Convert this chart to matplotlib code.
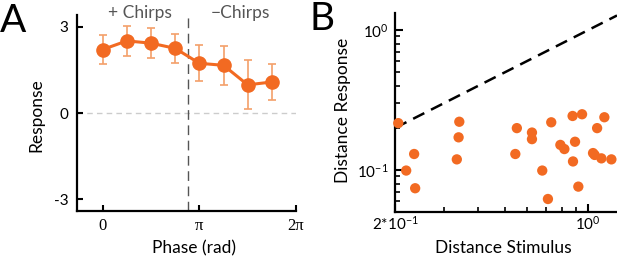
import numpy as np
import matplotlib
matplotlib.use('Agg')
import matplotlib.pyplot as plt
import matplotlib.ticker as mticker
import matplotlib.transforms as mtransforms

plt.rcParams['font.family'] = ['Lato', 'DejaVu Sans']
plt.rcParams['mathtext.fontset'] = 'custom'
plt.rcParams['mathtext.rm'] = 'Lato'
plt.rcParams['mathtext.default'] = 'regular'

# panel A: response vs chirp phase
phase = np.arange(8) * np.pi / 4
resp = [2.21, 2.51, 2.43, 2.25, 1.73, 1.66, 0.98, 1.08]
resp_err = [0.52, 0.52, 0.52, 0.50, 0.63, 0.68, 0.85, 0.62]
split_phase = 2.78
chirp_labels = ['+ Chirps', '\u2212Chirps']
chirp_pos = [1.21, 4.46]

# panel B: distance of responses vs distance of stimuli
dist_stim = [0.205, 0.219, 0.234, 0.236, 0.341, 0.339, 0.334, 0.551, 0.544,
             0.625, 0.625, 0.681, 0.734, 0.714, 0.792, 0.819, 0.895, 0.880,
             0.877, 0.949, 0.920, 1.143, 1.076, 1.040, 1.054, 1.115, 1.212]
dist_resp = [0.216, 0.099, 0.130, 0.074, 0.221, 0.171, 0.119, 0.199, 0.130,
             0.185, 0.166, 0.099, 0.219, 0.062, 0.151, 0.141, 0.159, 0.115,
             0.243, 0.250, 0.076, 0.238, 0.199, 0.132, 0.128, 0.121, 0.119]

orange = '#f26a22'
err_orange = '#f4a06a'

fig = plt.figure(figsize=(6.17, 2.59), dpi=100)

# ---- A ----
axA = fig.add_axes([0.1248, 0.1853, 0.355, 0.7567])
axA.axhline(0, color='#cccccc', lw=1, ls=(0, (4, 3)), zorder=0)
axA.axvline(split_phase, color='#555555', lw=1, ls=(0, (7, 4)), zorder=1)
axA.errorbar(phase, resp, yerr=resp_err, fmt='none', ecolor=err_orange,
             elinewidth=1.2, capsize=3, capthick=1.2, zorder=2)
axA.plot(phase, resp, '-o', color=orange, lw=2.2, ms=9.5, zorder=3)
axA.set_xlim(-0.835, 2 * np.pi)
axA.set_ylim(-3.41, 3.41)
axA.set_xticks([0, np.pi, 2 * np.pi])
axA.set_xticklabels(['0', '\u03c0', '2\u03c0'],
                    family=['Liberation Serif', 'DejaVu Serif'], fontsize=12)
axA.set_yticks([-3, 0, 3])
axA.set_yticklabels(['-3', '0', '3'], fontsize=11)
axA.tick_params(direction='in', length=4.5, width=1.5, pad=5)
axA.tick_params(axis='y', pad=6)
for s in ['top', 'right']:
    axA.spines[s].set_visible(False)
for s in ['left', 'bottom']:
    axA.spines[s].set_linewidth(1.6)
axA.set_ylabel('Response', fontsize=12.5, va='center')
axA.yaxis.set_label_coords(-0.187, 0.49)
axA.set_xlabel('Phase (rad)', fontsize=12.5, va='center')
axA.xaxis.set_label_coords(0.532, -0.19)
trA = mtransforms.blended_transform_factory(axA.transData, axA.transAxes)
for lab, xp in zip(chirp_labels, chirp_pos):
    axA.text(xp, 1.01, lab, transform=trA, ha='center', va='center',
             fontsize=12.5, color='#555555')
fig.text(0.0, 0.876, 'A', fontsize=28, ha='left', va='baseline')

# ---- B ----
axB = fig.add_axes([0.6407, 0.1826, 0.3593, 0.766])
axB.set_xscale('log')
axB.set_yscale('log')
xlim = [0.2, 1.27]
axB.set_xlim(xlim)
axB.set_ylim(0.0503, 1.316)
axB.plot(xlim, xlim, color='black', lw=1.8, dashes=(5, 3), zorder=1)
axB.scatter(dist_stim, dist_resp, s=55, color=orange, edgecolors='none',
            zorder=3, clip_on=False)
axB.xaxis.set_major_locator(mticker.FixedLocator([0.2, 1.0]))
axB.xaxis.set_major_formatter(mticker.FixedFormatter(['2*10$^{-1}$', '10$^{0}$']))
axB.xaxis.set_minor_locator(mticker.FixedLocator(np.arange(3, 10) / 10))
axB.xaxis.set_minor_formatter(mticker.NullFormatter())
axB.yaxis.set_major_locator(mticker.FixedLocator([0.1, 1.0]))
axB.yaxis.set_major_formatter(mticker.FixedFormatter(['10$^{-1}$', '10$^{0}$']))
axB.yaxis.set_minor_locator(mticker.FixedLocator(
    list(np.arange(6, 10) / 100) + list(np.arange(2, 10) / 10)))
axB.yaxis.set_minor_formatter(mticker.NullFormatter())
axB.tick_params(which='major', direction='in', length=6, width=1.5,
                labelsize=11, pad=2)
axB.tick_params(which='minor', direction='in', length=3.5, width=1.2)
axB.tick_params(axis='y', which='major', pad=5)
for s in ['top', 'right']:
    axB.spines[s].set_visible(False)
for s in ['left', 'bottom']:
    axB.spines[s].set_linewidth(1.6)
axB.set_ylabel('Distance Response', fontsize=12.5, va='center')
axB.yaxis.set_label_coords(-0.236, 0.513)
axB.set_xlabel('Distance Stimulus', fontsize=12.5, va='center')
axB.xaxis.set_label_coords(0.486, -0.183)
fig.text(0.502, 0.884, 'B', fontsize=28, ha='left', va='baseline')

fig.savefig('out.png', dpi=100)
